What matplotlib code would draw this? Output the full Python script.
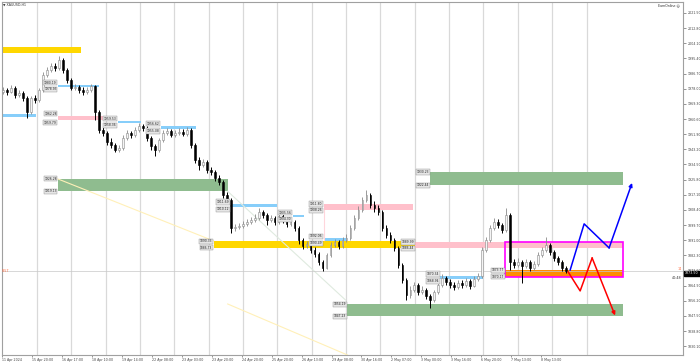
import numpy as np
import matplotlib
matplotlib.use('Agg')
from matplotlib import pyplot as plt
from matplotlib.patches import Rectangle

# --- H1 candles (open = previous close) ---
first_open = 1976.0
closes = [1977.3, 1976.2, 1978.5, 1974.4, 1975.6, 1972.7, 1964.7, 1972.7, 1971.6, 1977.3,
          1985.9, 1988.8, 1991.1, 1989.9, 1994.5, 1988.8, 1983.1, 1978.5, 1979.0, 1977.3,
          1976.2, 1977.3, 1979.6, 1964.7, 1954.3, 1952.6, 1947.4, 1945.7, 1942.9, 1944.0,
          1949.7, 1952.6, 1951.5, 1954.3, 1956.6, 1955.5, 1949.7, 1945.2, 1942.9, 1948.6,
          1952.6, 1953.8, 1951.5, 1952.6, 1953.2, 1952.0, 1954.3, 1945.7, 1937.1, 1934.2,
          1936.0, 1931.4, 1930.2, 1926.8, 1924.5, 1917.0, 1914.1, 1898.1, 1898.6, 1899.2,
          1900.4, 1901.5, 1902.7, 1903.8, 1907.2, 1905.5, 1902.7, 1903.8, 1901.5, 1905.0,
          1902.7, 1900.4, 1901.5, 1898.1, 1891.2, 1887.7, 1888.9, 1885.4, 1883.1, 1878.5,
          1875.1, 1882.6, 1888.3, 1890.0, 1887.7, 1891.2, 1892.3, 1898.1, 1903.8, 1908.4,
          1914.1, 1917.0, 1911.3, 1909.5, 1907.2, 1898.1, 1894.0, 1891.2, 1886.6, 1876.8,
          1868.2, 1859.6, 1862.5, 1865.3, 1861.3, 1862.5, 1859.0, 1856.7, 1861.3, 1865.3,
          1869.3, 1867.0, 1865.3, 1864.2, 1866.5, 1865.3, 1867.6, 1864.8, 1868.8, 1870.5,
          1885.4, 1891.2, 1898.1, 1901.5, 1899.8, 1896.9, 1905.5, 1878.5, 1876.8, 1878.5,
          1876.2, 1878.5, 1875.1, 1877.4, 1882.6, 1885.4, 1888.3, 1884.3, 1880.8, 1878.5,
          1875.1, 1873.5]
highs = [1979.0, 1978.6, 1980.1, 1979.4, 1977.2, 1976.8, 1974.0, 1973.9, 1974.2, 1978.6,
         1987.4, 1990.6, 1992.9, 1993.0, 1996.8, 1995.6, 1990.1, 1984.0, 1980.6, 1980.3,
         1978.8, 1978.9, 1980.8, 1980.4, 1966.0, 1956.7, 1953.9, 1949.8, 1946.9, 1945.6,
         1951.2, 1954.3, 1954.0, 1955.8, 1958.3, 1957.9, 1956.4, 1951.0, 1946.5, 1949.9,
         1954.1, 1955.6, 1955.0, 1954.4, 1955.2, 1954.6, 1956.0, 1955.2, 1946.8, 1938.9,
         1937.8, 1937.2, 1932.9, 1931.5, 1928.2, 1925.6, 1918.8, 1915.0, 1900.2, 1901.0,
         1902.1, 1903.3, 1904.6, 1905.9, 1909.6, 1908.5, 1906.6, 1905.7, 1904.9, 1907.0,
         1906.3, 1903.9, 1903.5, 1902.6, 1899.0, 1892.5, 1890.8, 1890.0, 1886.9, 1884.2,
         1879.6, 1883.8, 1889.9, 1891.8, 1891.3, 1892.9, 1894.3, 1899.8, 1905.4, 1910.6,
         1915.9, 1920.0, 1918.1, 1913.4, 1911.3, 1908.3, 1899.6, 1895.5, 1892.4, 1887.5,
         1877.9, 1869.3, 1864.6, 1867.1, 1866.4, 1864.5, 1863.7, 1860.3, 1862.6, 1866.9,
         1871.6, 1870.4, 1868.7, 1866.8, 1868.3, 1867.9, 1869.4, 1868.8, 1870.6, 1872.3,
         1887.0, 1893.1, 1900.0, 1903.6, 1903.0, 1901.0, 1909.5, 1906.6, 1880.3, 1880.6,
         1879.8, 1880.0, 1879.7, 1879.3, 1884.4, 1887.2, 1892.9, 1889.6, 1885.5, 1882.0,
         1879.6, 1876.3]
lows = [1974.8, 1974.5, 1975.3, 1972.9, 1973.1, 1970.9, 1961.2, 1963.5, 1969.8, 1970.5,
        1976.4, 1984.6, 1987.5, 1988.2, 1988.9, 1987.2, 1981.4, 1977.0, 1977.2, 1975.8,
        1974.6, 1975.1, 1976.4, 1960.1, 1952.8, 1950.9, 1945.8, 1944.0, 1941.5, 1941.8,
        1943.1, 1948.5, 1949.9, 1950.4, 1953.2, 1953.9, 1948.1, 1943.0, 1939.6, 1941.7,
        1947.5, 1951.2, 1950.0, 1950.3, 1951.4, 1950.6, 1951.1, 1944.1, 1935.2, 1931.4,
        1933.0, 1929.8, 1928.7, 1925.3, 1922.7, 1915.4, 1912.3, 1895.2, 1896.3, 1897.4,
        1898.0, 1899.1, 1900.2, 1901.6, 1902.9, 1904.0, 1899.9, 1901.3, 1899.6, 1900.4,
        1901.1, 1898.5, 1899.2, 1896.4, 1889.0, 1885.9, 1886.4, 1883.6, 1881.5, 1876.9,
        1873.3, 1874.3, 1881.5, 1886.9, 1886.2, 1886.6, 1890.0, 1891.4, 1897.0, 1902.6,
        1907.3, 1912.8, 1909.7, 1907.4, 1905.6, 1896.5, 1892.2, 1889.5, 1884.9, 1874.9,
        1866.3, 1856.7, 1858.1, 1861.3, 1859.5, 1860.0, 1857.2, 1852.1, 1855.5, 1860.2,
        1864.2, 1865.5, 1863.6, 1862.5, 1863.0, 1863.4, 1864.2, 1863.0, 1863.9, 1867.4,
        1869.4, 1884.0, 1890.1, 1896.8, 1898.1, 1895.1, 1896.0, 1874.0, 1874.9, 1875.4,
        1866.6, 1875.0, 1873.4, 1874.0, 1876.3, 1881.3, 1884.2, 1882.8, 1879.1, 1876.7,
        1873.2, 1871.9]
opens = [first_open] + closes[:-1]

# --- zones: (start bar, end bar, top, bottom, colour, labelled) ---
zones = [
    (-0.5, 19.5, 2002.05, 1998.52, '#ffd700', False),
    (-0.5, 8.25, 1963.38, 1962.05, '#87cefa', False),
    (13.75, 24.0, 1980.19, 1978.93, '#87cefa', True),
    (13.75, 25.75, 1962.28, 1959.79, '#ffc0cb', True),
    (28.75, 34.5, 1959.53, 1958.36, '#87cefa', True),
    (39.5, 48.25, 1956.62, 1955.08, '#87cefa', True),
    (13.75, 56.25, 1926.28, 1919.13, '#8fbc8f', True),
    (57.0, 68.5, 1911.69, 1910.12, '#87cefa', True),
    (72.5, 75.25, 1905.56, 1904.30, '#87cefa', True),
    (52.75, 103.25, 1890.33, 1886.73, '#ffd700', True),
    (80.25, 86.0, 1892.06, 1890.49, '#87cefa', True),
    (80.25, 102.75, 1911.80, 1908.26, '#ffc0cb', True),
    (107.0, 155.25, 1930.23, 1922.44, '#8fbc8f', True),
    (86.25, 155.25, 1854.19, 1847.23, '#8fbc8f', True),
    (109.5, 120.25, 1870.34, 1868.94, '#87cefa', True),
    (103.25, 155.25, 1889.99, 1886.44, '#ffc0cb', True),
    (125.75, 155.25, 1873.77, 1870.17, '#ff8c00', True),
]
box_range = (125.75, 155.25, 1889.99, 1870.17)

# trend lines: ((x0, x1), (y0, y1), colour)
trend_lines = [
    ((13.75, 52.75), (1926.2, 1890.6), '#fff0b8'),
    ((56.25, 86.25), (1854.4, 1825.1), '#fff0b8'),
    ((56.25, 85.75), (1919.1, 1856.7), '#dfeadf'),
    ((80.25, 80.25), (1908.3, 1891.1), '#ffd6dc'),
]

# projected paths
blue_x = [142.0, 145.5, 151.75, 157.5]
blue_y = [1873.9, 1900.4, 1886.6, 1923.9]
red_x = [141.5, 144.5, 147.5, 153.25]
red_y = [1872.8, 1861.9, 1880.8, 1847.8]

bid = 1873.5
price_ticks = [2021.50, 2012.80, 2004.10, 1995.40, 1986.70, 1978.00, 1969.30, 1960.60,
               1951.90, 1943.20, 1934.50, 1925.80, 1917.10, 1908.40, 1899.70, 1891.00,
               1882.30, 1873.60, 1864.90, 1856.20, 1847.50, 1838.80, 1830.10]
time_labels = ['11 Apr 2024', '15 Apr 20:00', '16 Apr 17:00', '18 Apr 10:00', '19 Apr 14:00',
               '22 Apr 08:00', '23 Apr 03:00', '23 Apr 20:00', '24 Apr 20:00', '25 Apr 20:00',
               '26 Apr 13:00', '29 Apr 08:00', '30 Apr 16:00', '2 May 07:00', '3 May 00:00',
               '3 May 16:00', '6 May 20:00', '7 May 13:00', '8 May 13:00']

W, H = 700, 362
fig = plt.figure(figsize=(W / 100, H / 100), dpi=100)
ax = fig.add_axes([2 / W, 1 - 355 / H, 681 / W, 353 / H])
ax.set_xlim(0, 170.25)
ax.set_ylim(1825.1, 2027.8)

for xg in np.arange(8.5, 147, 8.6):
    ax.axvline(xg, color='#d9d9d9', lw=0.9, zorder=0)

for x0, x1, top, bot, col, lab in zones:
    ax.add_patch(Rectangle((x0, bot), x1 - x0, top - bot, facecolor=col, edgecolor='none', zorder=1))
    if lab:
        # thin lines: stack the two labels so they only touch
        nudge = 1.3 if top - bot < 2.5 else 0.0
        for p, dy in ((top, nudge), (bot, -nudge)):
            ax.text(x0 - 0.3, p + dy, f'{p:.2f}', ha='right', va='center', fontsize=2.2, color='#222222',
                    bbox=dict(boxstyle='square,pad=0.2', fc='#e6e6e6', ec='#8c8c8c', lw=0.3), zorder=6)

bx0, bx1, btop, bbot = box_range
ax.add_patch(Rectangle((bx0, bbot), bx1 - bx0, btop - bbot, fill=False, edgecolor='#ff00ff', lw=1.2, zorder=2))

for (xs, ys, col) in trend_lines:
    ax.plot(xs, ys, color=col, lw=0.8, zorder=1)

ax.axhline(bid, color='#c8c8c8', lw=0.5, zorder=1)

# candles
x = np.arange(len(closes))
o = np.array(opens)
c = np.array(closes)
h = np.array(highs)
l = np.array(lows)
up = c >= o
ax.vlines(x[up], l[up], h[up], color='#8a8a8a', lw=0.6, zorder=3)
ax.vlines(x[~up], l[~up], h[~up], color='black', lw=0.7, zorder=3)
body_lo = np.minimum(o, c)
body_h = np.maximum(np.abs(c - o), 0.3)
ax.bar(x[up], body_h[up], bottom=body_lo[up], width=0.45, color='#f4f4f4', edgecolor='#8a8a8a', lw=0.4, zorder=4)
ax.bar(x[~up], body_h[~up], bottom=body_lo[~up], width=0.45, color='black', edgecolor='black', lw=0.4, zorder=4)

# projected moves
for px, py, col in ((blue_x, blue_y, '#0000ff'), (red_x, red_y, '#ff0000')):
    ax.plot(px[:-1], py[:-1], color=col, lw=1.1, zorder=5)
    ax.annotate('', xy=(px[-1], py[-1]), xytext=(px[-2], py[-2]),
                arrowprops=dict(arrowstyle='-|>', color=col, lw=1.1, mutation_scale=5,
                                shrinkA=0, shrinkB=0), zorder=5)

# axes styling
for s in ax.spines.values():
    s.set_color('#a0a0a0')
    s.set_linewidth(0.8)
ax.yaxis.tick_right()
ax.set_yticks(price_ticks, [f'{v:.2f}' for v in price_ticks])
ax.tick_params(axis='y', labelsize=2.3, length=2, width=0.4, pad=1.5, colors='#444444')
ax.set_xticks([(1 + 30 * k - 2) / 4 for k in range(len(time_labels))], time_labels)
ax.tick_params(axis='x', labelsize=2.3, length=1.5, width=0.4, pad=0.8, colors='#444444')
for t in ax.get_xticklabels():
    t.set_ha('left')

# chart texts
fig.text(3 / W, 1 - 5 / H, '\u25bc XAUUSD,H1', fontsize=2.3, va='center', color='#333333')
fig.text(680 / W, 1 - 5 / H, 'EarnOnline \u263a', fontsize=2.3, va='center', ha='right', color='#333333')
fig.text(2 / W, 1 - 271 / H, '0:57', fontsize=2.4, va='center', color='#ff6a3d')
fig.text(682 / W, 1 - 269 / H, '14', fontsize=2.4, va='center', ha='right', color='#ff6a3d')
fig.text(681 / W, 1 - 278 / H, '40:48', fontsize=2.4, va='center', ha='right', color='#333333')
fig.text(685 / W, 1 - 273.5 / H, f'{bid:.2f}', fontsize=2.3, va='center', color='white',
         bbox=dict(boxstyle='square,pad=0.3', fc='black', ec='black'))

fig.savefig('out.png', dpi=100, facecolor='white')
